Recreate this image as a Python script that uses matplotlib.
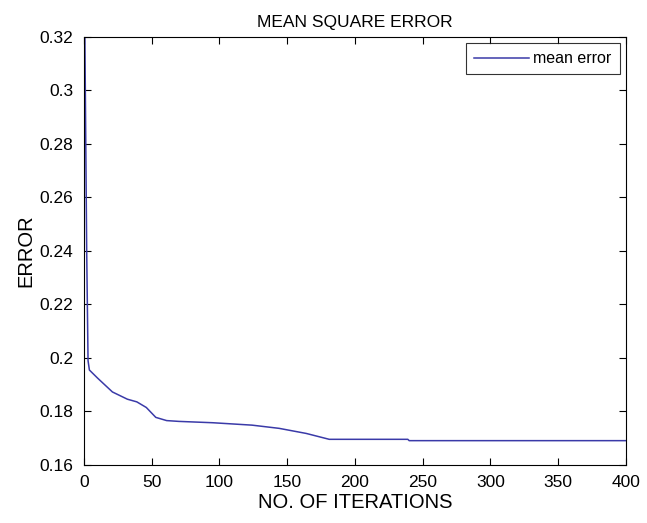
import matplotlib
matplotlib.use("Agg")
import matplotlib.pyplot as plt

# Mean square error per training iteration
iterations = [0, 1, 2, 3, 4, 10, 21, 32, 39, 46, 53, 61, 70, 95, 124, 144, 164, 181, 239, 240, 400]
mse = [0.36, 0.30, 0.24, 0.199, 0.1955, 0.1925, 0.1873, 0.1846, 0.1836, 0.1815, 0.1778, 0.1766, 0.1763,
       0.1758, 0.1749, 0.1737, 0.1718, 0.1696, 0.1696, 0.1691, 0.1691]

xticks = [0, 50, 100, 150, 200, 250, 300, 350, 400]
yticks = [0.16, 0.18, 0.20, 0.22, 0.24, 0.26, 0.28, 0.30, 0.32]
ytick_labels = ["0.16", "0.18", "0.2", "0.22", "0.24", "0.26", "0.28", "0.3", "0.32"]

plt.rcParams["font.family"] = ["Liberation Sans", "DejaVu Sans"]

fig = plt.figure(figsize=(6.47, 5.23), dpi=100)
ax = fig.add_axes([0.1298, 0.1109, 0.8377, 0.8184])

ax.plot(iterations, mse, color="#3a3aa8", linewidth=1.1, label="mean error")

ax.set_xlim(0, 400)
ax.set_ylim(0.16, 0.32)
ax.set_xticks(xticks)
ax.set_yticks(yticks)
ax.set_yticklabels(ytick_labels)
ax.tick_params(direction="in", top=True, right=True, length=5, width=0.8,
               labelsize=12.5, pad=7.5)
for s in ax.spines.values():
    s.set_linewidth(0.8)

ax.set_title("MEAN SQUARE ERROR", fontsize=12.5, pad=7.5)
ax.set_xlabel("NO. OF ITERATIONS", fontsize=14.5, labelpad=2)
ax.set_ylabel("ERROR", fontsize=14.5, labelpad=3)

leg = ax.legend(loc="upper right", fontsize=11.5, frameon=True, fancybox=False,
                edgecolor="black", handlelength=3.4, borderpad=0.5,
                borderaxespad=0.4, handletextpad=0.3)
leg.get_frame().set_linewidth(0.8)

fig.savefig("out.png", dpi=100, facecolor="white")
